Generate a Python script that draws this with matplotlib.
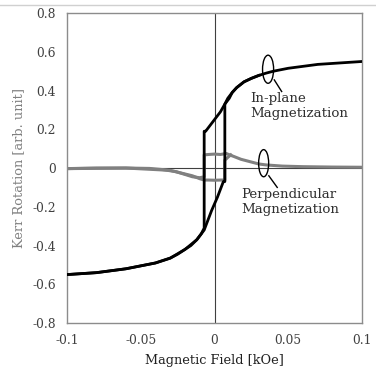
import matplotlib.pyplot as plt
from matplotlib.patches import Ellipse
from matplotlib.lines import Line2D

# in-plane loop, field going down (upper branch) and up (lower branch)
inplane_down_x = [0.1, 0.09, 0.08, 0.07, 0.06, 0.05, 0.04, 0.035, 0.03, 0.025, 0.02, 0.015, 0.012, 0.009, 0.007,
                  0.004, 0.0, -0.003, -0.006, -0.007, -0.007, -0.009, -0.012, -0.016, -0.02, -0.025, -0.03,
                  -0.04, -0.05, -0.06, -0.07, -0.08, -0.09, -0.1]
inplane_down_y = [0.55, 0.545, 0.54, 0.535, 0.525, 0.515, 0.5, 0.49, 0.478, 0.463, 0.445, 0.415, 0.39, 0.36, 0.33,
                  0.29, 0.25, 0.22, 0.19, 0.19, -0.31, -0.34, -0.37, -0.4, -0.42, -0.445, -0.465,
                  -0.49, -0.505, -0.52, -0.53, -0.54, -0.545, -0.55]
inplane_up_x = [-0.1, -0.08, -0.06, -0.04, -0.03, -0.02, -0.012, -0.007, -0.002, 0.002, 0.006, 0.007, 0.007,
                0.008, 0.01, 0.012, 0.015, 0.02, 0.025, 0.03]
inplane_up_y = [-0.55, -0.54, -0.52, -0.49, -0.465, -0.42, -0.37, -0.32, -0.22, -0.15, -0.07, -0.07, 0.33,
                0.34, 0.36, 0.39, 0.415, 0.445, 0.463, 0.478]

# perpendicular component
perp_down_x = [0.1, 0.08, 0.06, 0.046, 0.035, 0.03, 0.024, 0.018, 0.013, 0.0105, 0.008, 0.004, 0.0, -0.004,
               -0.007, -0.007, -0.01, -0.015, -0.02, -0.026, -0.035, -0.044, -0.06, -0.08, -0.1]
perp_down_y = [0.004, 0.005, 0.007, 0.01, 0.016, 0.021, 0.033, 0.045, 0.06, 0.067, 0.075, 0.07, 0.072, 0.07,
               0.068, -0.045, -0.05, -0.045, -0.033, -0.019, -0.008, -0.002, 0.0, 0.0, -0.003]
perp_up_x = [-0.1, -0.06, -0.03, -0.015, -0.01, -0.007, -0.004, 0.0, 0.004, 0.007, 0.007, 0.009, 0.011]
perp_up_y = [-0.003, 0.0, -0.012, -0.04, -0.055, -0.062, -0.062, -0.063, -0.062, -0.062, 0.04, 0.055, 0.068]

plt.rcParams['font.family'] = ['DejaVu Serif']

fig = plt.figure(figsize=(3.76, 3.73), dpi=100)
fig.patch.set_facecolor('white')
ax = fig.add_axes([0.178, 0.134, 0.785, 0.831])

ax.axhline(0, color='#404040', lw=0.8, zorder=1)
ax.axvline(0, color='#404040', lw=0.8, zorder=1)

ax.plot(perp_down_x, perp_down_y, color='#808080', lw=2.2, zorder=2)
ax.plot(perp_up_x, perp_up_y, color='#808080', lw=2.2, zorder=2)
ax.plot(inplane_down_x, inplane_down_y, color='black', lw=2.0, zorder=3)
ax.plot(inplane_up_x, inplane_up_y, color='black', lw=2.0, zorder=3)

ax.set_xlim(-0.1, 0.1)
ax.set_ylim(-0.8, 0.8)
xt = [-0.1, -0.05, 0, 0.05, 0.1]
yt = [-0.8, -0.6, -0.4, -0.2, 0, 0.2, 0.4, 0.6, 0.8]
ax.set_xticks(xt)
ax.set_xticklabels(['-0.1', '-0.05', '0', '0.05', '0.1'])
ax.set_yticks(yt)
ax.set_yticklabels(['-0.8', '-0.6', '-0.4', '-0.2', '0', '0.2', '0.4', '0.6', '0.8'])
ax.tick_params(length=0, labelsize=8.8, colors='#404040', pad=8)
for s in ax.spines.values():
    s.set_color('#8c8c8c')
    s.set_linewidth(1.0)

ax.set_xlabel('Magnetic Field [kOe]', fontsize=9.3, color='#202020', labelpad=5)
ax.set_ylabel('Kerr Rotation [arb. unit]', fontsize=9.3, color='#808080', labelpad=5)

# annotation ellipses
ax.add_patch(Ellipse((0.0363, 0.51), 0.0075, 0.145, fill=False, ec='black', lw=1.0, zorder=4))
ax.plot([0.0405, 0.0455], [0.455, 0.395], color='black', lw=1.0, zorder=4)
ax.text(0.024, 0.39, 'In-plane\nMagnetization', fontsize=9.6, va='top', ha='left',
        color='#303030', linespacing=1.15)

ax.add_patch(Ellipse((0.0333, 0.025), 0.0068, 0.14, fill=False, ec='black', lw=1.0, zorder=4))
ax.plot([0.0368, 0.0425], [-0.04, -0.1], color='black', lw=1.0, zorder=4)
ax.text(0.018, -0.105, 'Perpendicular\nMagnetization', fontsize=9.6, va='top', ha='left',
        color='#303030', linespacing=1.15)

# light frame line at the top of the picture
fig.add_artist(Line2D([0, 1], [0.987, 0.987], color='#d0d0d0', lw=1.0))

plt.savefig('out.png', dpi=100)
